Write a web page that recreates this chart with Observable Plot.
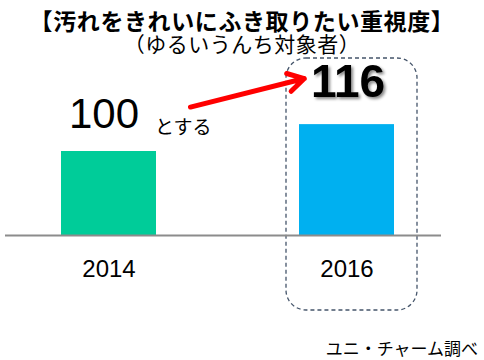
<!DOCTYPE html>
<html><head><meta charset="utf-8">
<script src="https://cdn.jsdelivr.net/npm/d3@7"></script>
<script src="https://cdn.jsdelivr.net/npm/@observablehq/plot@0.6"></script>
<style>
body{margin:0;background:#fff;width:484px;height:360px;overflow:hidden;font-family:"Noto Sans CJK JP",sans-serif;}
#title{font-size:23px;font-weight:bold;line-height:24px;padding-top:8px;text-align:center;color:#000;letter-spacing:0.6px;}
#sub{font-size:21px;line-height:22px;text-align:center;margin-bottom:2px;color:#000;letter-spacing:0.5px;}
#cap{font-size:17px;line-height:20px;text-align:right;padding-right:6px;margin-top:12px;color:#000;}
svg{overflow:visible;display:block;}
</style></head>
<body>
<div id="title">【汚れをきれいにふき取りたい重視度】</div>
<div id="sub">（ゆるいうんち対象者）</div>
<div id="chart"></div>
<div id="cap">ユニ・チャーム調べ</div>
<script>
const years = ["2014", "2016"];
const values = [100, 116];
const colors = ["#00CC99", "#00B0F0"];
const baseValue = 50;
const arrowFrom = {year: "2014", value: 114.3};
const arrowTo = {year: "2016", value: 149.8};

const data = years.map((year, i) => ({year, value: values[i], color: colors[i]}));
const first = data[0], last = data[1];

const chart = Plot.plot({
  width: 484, height: 270,
  marginTop: 11, marginBottom: 91, marginLeft: 13, marginRight: 41,
  x: {domain: years, paddingInner: 0.6, paddingOuter: 0.2, axis: null},
  y: {domain: [baseValue, 150], axis: null},
  color: {type: "identity"},
  marks: [
    Plot.cell([last], {x: "year", fill: "none", stroke: "#44546A", strokeWidth: 1.3,
      strokeDasharray: "4,3", rx: 20, insetTop: -9, insetBottom: -75, insetLeft: -13, insetRight: -23}),
    Plot.barY(data, {x: "year", y1: baseValue, y2: "value", fill: "color"}),
    Plot.ruleY([baseValue], {stroke: "#8C8C8C", strokeWidth: 2, insetLeft: -8, insetRight: 2}),
    Plot.text(data, {x: "year", y: baseValue, text: "year", dy: 34, fontSize: 24,
      fontFamily: "Liberation Sans", fill: "#000"}),
    Plot.text([first], {x: "year", y: "value", text: d => String(d.value), textAnchor: "start",
      lineAnchor: "bottom", dx: -40, dy: -24, fontSize: 42, fontFamily: "Liberation Sans", fill: "#000"}),
    Plot.text([first], {x: "year", y: "value", text: () => "とする", textAnchor: "start",
      lineAnchor: "bottom", dx: 46, dy: -18, fontSize: 19, fontFamily: "Noto Sans CJK JP", fill: "#000"}),
    Plot.text([last], {x: "year", y: "value", text: d => String(d.value), lineAnchor: "bottom",
      dx: 1, dy: -28, fontSize: 46, fontWeight: "bold", fontFamily: "Liberation Sans", fill: "#000",
      imageFilter: "drop-shadow(2px 2px 1.5px #888)"}),
    Plot.arrow([{from: arrowFrom, to: arrowTo}], {
      x1: d => d.from.year, y1: d => d.from.value, x2: d => d.to.year, y2: d => d.to.value,
      stroke: "#FF0000", strokeWidth: 5, headLength: 5.5, headAngle: 60, insetStart: 84, insetEnd: 44})
  ]
});
document.getElementById("chart").appendChild(chart);
</script>
</body></html>
